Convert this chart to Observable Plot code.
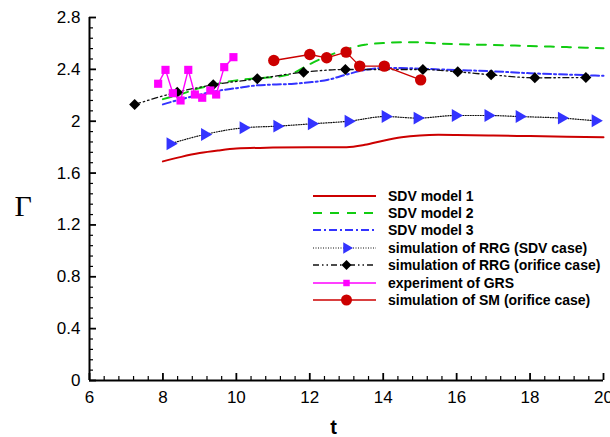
<!DOCTYPE html>
<html><head><meta charset="utf-8">
<script src="https://cdn.jsdelivr.net/npm/d3@7"></script>
<script src="https://cdn.jsdelivr.net/npm/@observablehq/plot@0.6"></script>
<style>
body{margin:0;background:#fff;}
#wrap{position:relative;width:610px;height:437px;overflow:hidden;background:#fff;}
#legend{position:absolute;left:313px;top:187px;font:bold 14px "Liberation Sans",Arial,sans-serif;color:#000;}
.row{display:flex;align-items:center;height:17.4px;white-space:nowrap;}
.row svg{width:64px;height:16px;margin-right:11px;flex:none;}
</style></head>
<body><div id="wrap"><div id="legend"></div></div>
<script>
// ---- data ----
const sdv1T = [8.0, 8.5, 9.0, 9.5, 10.0, 11.0, 12.0, 13.0, 13.5, 14.0, 14.5, 15.0, 15.5, 16.0, 17.0, 18.0, 19.0, 20.0];
const sdv1V = [1.69, 1.725, 1.754, 1.774, 1.789, 1.797, 1.80, 1.80, 1.818, 1.85, 1.876, 1.89, 1.895, 1.894, 1.89, 1.885, 1.88, 1.877];

const sdv2T = [8.0, 8.5, 9.0, 9.5, 10.0, 10.5, 11.0, 11.5, 12.0, 12.5, 13.0, 13.5, 14.0, 14.5, 15.0, 15.5, 16.0, 17.0, 18.0, 19.0, 20.0];
const sdv2V = [2.17, 2.21, 2.255, 2.29, 2.315, 2.33, 2.34, 2.365, 2.44, 2.505, 2.555, 2.59, 2.603, 2.61, 2.608, 2.6, 2.594, 2.588, 2.58, 2.572, 2.563];

const sdv3T = [8.0, 8.5, 9.0, 9.5, 10.0, 10.5, 11.0, 11.5, 12.0, 12.5, 13.0, 13.5, 14.0, 14.5, 15.0, 16.0, 17.0, 18.0, 19.0, 20.0];
const sdv3V = [2.13, 2.17, 2.205, 2.235, 2.255, 2.275, 2.283, 2.288, 2.30, 2.32, 2.36, 2.395, 2.41, 2.41, 2.405, 2.395, 2.385, 2.37, 2.36, 2.35];

const rrgSdvT = [8.2, 9.14, 10.19, 11.11, 12.05, 13.05, 14.06, 14.93, 15.97, 16.86, 17.71, 18.86, 19.78];
const rrgSdvV = [1.826, 1.898, 1.949, 1.962, 1.98, 2.0, 2.036, 2.024, 2.044, 2.044, 2.036, 2.024, 2.003];

const rrgOrT = [7.23, 8.39, 9.37, 10.57, 11.83, 12.97, 15.08, 16.03, 16.94, 18.13, 19.52];
const rrgOrV = [2.129, 2.224, 2.281, 2.327, 2.378, 2.399, 2.399, 2.381, 2.358, 2.335, 2.337];

const grsT = [7.87, 8.07, 8.27, 8.48, 8.69, 8.87, 9.07, 9.29, 9.45, 9.67, 9.92];
const grsV = [2.289, 2.396, 2.216, 2.16, 2.396, 2.206, 2.181, 2.237, 2.206, 2.417, 2.494];

const smT = [11.02, 12.0, 12.46, 12.99, 13.36, 14.03, 15.02];
const smV = [2.468, 2.515, 2.489, 2.533, 2.425, 2.425, 2.319];

const xTicks = [6, 8, 10, 12, 14, 16, 18, 20];
const yTicks = [0, 0.4, 0.8, 1.2, 1.6, 2, 2.4, 2.8];
const yTickLabels = ["0", "0.4", "0.8", "1.2", "1.6", "2", "2.4", "2.8"];

const legendNames = ["SDV model 1", "SDV model 2", "SDV model 3",
  "simulation of RRG (SDV case)", "simulation of RRG (orifice case)",
  "experiment of GRS", "simulation of SM (orifice case)"];

// ---- build ----
const pts = (T, V) => T.map((t, i) => ({t, v: V[i]}));
const sdv1 = pts(sdv1T, sdv1V), sdv2 = pts(sdv2T, sdv2V), sdv3 = pts(sdv3T, sdv3V);
const rrgSdv = pts(rrgSdvT, rrgSdvV), rrgOr = pts(rrgOrT, rrgOrV);
const grs = pts(grsT, grsV), sm = pts(smT, smV);

const isMajor = (v, step) => Math.abs(v / step - Math.round(v / step)) < 1e-6;
const xMinor = d3.range(0, 36).map(i => 6 + i * 0.4).filter(v => v <= 20 + 1e-9 && !isMajor(v, 2));
const yMinor = d3.range(0, 36).map(i => i * 0.08).filter(v => v <= 2.8 + 1e-9 && !isMajor(v, 0.4));

const RED = "#cc0000", GREEN = "#11cc11", BLUE = "#3333ff", MAG = "#ff00ff";
const sty = {
  sdv1: {stroke: RED, strokeWidth: 2},
  sdv2: {stroke: GREEN, strokeWidth: 2, strokeDasharray: "9,8"},
  sdv3: {stroke: BLUE, strokeWidth: 2, strokeDasharray: "8,3,2,3"},
  rrgSdv: {stroke: "#111", strokeWidth: 1.2, strokeDasharray: "1,1.5"},
  rrgOr: {stroke: "#111", strokeWidth: 1.3, strokeDasharray: "6,3,1.5,3,1.5,3"},
  grs: {stroke: MAG, strokeWidth: 1.4},
  sm: {stroke: RED, strokeWidth: 1.4}
};

const MAJ = 7, MIN = 4;
const chart = Plot.plot({
  width: 610, height: 437,
  marginLeft: 89, marginRight: 7, marginTop: 17, marginBottom: 57,
  x: {domain: [6, 20]},
  y: {domain: [0, 2.8]},
  style: {fontFamily: "'Liberation Sans', Arial, sans-serif", fontSize: "17px", color: "#000", background: "#fff", overflow: "visible"},
  marks: [
    // inward ticks: outward ticks shifted back across the axis line
    Plot.axisX(xMinor, {tickSize: MIN, dy: -MIN, fill: "none", label: null, strokeWidth: 1.2}),
    Plot.axisX(xTicks, {tickSize: MAJ, dy: -MAJ, fill: "none", label: null, strokeWidth: 1.8}),
    Plot.axisX(xTicks, {tickSize: 0, tickPadding: 10, label: null, tickFormat: d => String(d)}),
    Plot.axisY(yMinor, {tickSize: MIN, dx: MIN, fill: "none", label: null, strokeWidth: 1.2}),
    Plot.axisY(yTicks, {tickSize: MAJ, dx: MAJ, fill: "none", label: null, strokeWidth: 1.8}),
    Plot.axisY(yTicks, {tickSize: 0, tickPadding: 9, label: null, tickFormat: (d, i) => yTickLabels[yTicks.indexOf(d)]}),
    Plot.ruleX([6], {stroke: "#000", strokeWidth: 2}),
    Plot.ruleY([0], {stroke: "#000", strokeWidth: 2}),

    Plot.line(sdv1, {x: "t", y: "v", curve: "monotone-x", ...sty.sdv1}),
    Plot.line(sdv2, {x: "t", y: "v", curve: "monotone-x", ...sty.sdv2}),
    Plot.line(sdv3, {x: "t", y: "v", curve: "monotone-x", ...sty.sdv3}),
    Plot.line(rrgSdv, {x: "t", y: "v", curve: "monotone-x", ...sty.rrgSdv}),
    Plot.line(rrgOr, {x: "t", y: "v", curve: "monotone-x", ...sty.rrgOr}),
    Plot.line(grs, {x: "t", y: "v", ...sty.grs}),
    Plot.line(sm, {x: "t", y: "v", ...sty.sm}),

    Plot.dot(rrgSdv, {x: "t", y: "v", symbol: "triangle", rotate: 90, r: 4.8, fill: BLUE, stroke: "none"}),
    Plot.dot(rrgOr, {x: "t", y: "v", symbol: "square", rotate: 45, r: 4.4, fill: "#000", stroke: "none"}),
    Plot.dot(grs, {x: "t", y: "v", symbol: "square", r: 4.6, fill: MAG, stroke: "none"}),
    Plot.dot(sm, {x: "t", y: "v", symbol: "circle", r: 5.7, fill: RED, stroke: "none"}),

    Plot.text(["Γ"], {text: d => d, frameAnchor: "left", dx: -75, dy: 7, fontFamily: "'Liberation Serif', 'DejaVu Serif', serif", fontSize: 30}),
    Plot.text(["t"], {text: d => d, frameAnchor: "bottom", dx: -13, dy: 53, fontWeight: "bold", fontSize: 20})
  ]
});
document.getElementById("wrap").prepend(chart);

// ---- legend ----
const legendDefs = [
  {s: sty.sdv1}, {s: sty.sdv2}, {s: sty.sdv3},
  {s: sty.rrgSdv, m: "tri"}, {s: sty.rrgOr, m: "dia"},
  {s: sty.grs, m: "sq"}, {s: sty.sm, m: "cir"}
];
const leg = d3.select("#legend");
legendNames.forEach((name, i) => {
  const d = legendDefs[i];
  const row = leg.append("div").attr("class", "row");
  const svg = row.append("svg");
  svg.append("line").attr("x1", 0).attr("x2", 63).attr("y1", 8).attr("y2", 8)
    .attr("stroke", d.s.stroke).attr("stroke-width", d.s.strokeWidth)
    .attr("stroke-dasharray", d.s.strokeDasharray || null);
  const cx = 33.5, cy = 8;
  if (d.m === "tri") svg.append("path").attr("d", d3.symbol(d3.symbolTriangle, 55)()).attr("transform", `translate(${cx},${cy}) rotate(90)`).attr("fill", BLUE);
  if (d.m === "dia") svg.append("path").attr("d", d3.symbol(d3.symbolSquare, 50)()).attr("transform", `translate(${cx},${cy}) rotate(45)`).attr("fill", "#000");
  if (d.m === "sq") svg.append("path").attr("d", d3.symbol(d3.symbolSquare, 42)()).attr("transform", `translate(${cx},${cy})`).attr("fill", MAG);
  if (d.m === "cir") svg.append("circle").attr("cx", cx).attr("cy", cy).attr("r", 5.5).attr("fill", RED);
  row.append("span").text(name);
});
</script>
</body></html>
